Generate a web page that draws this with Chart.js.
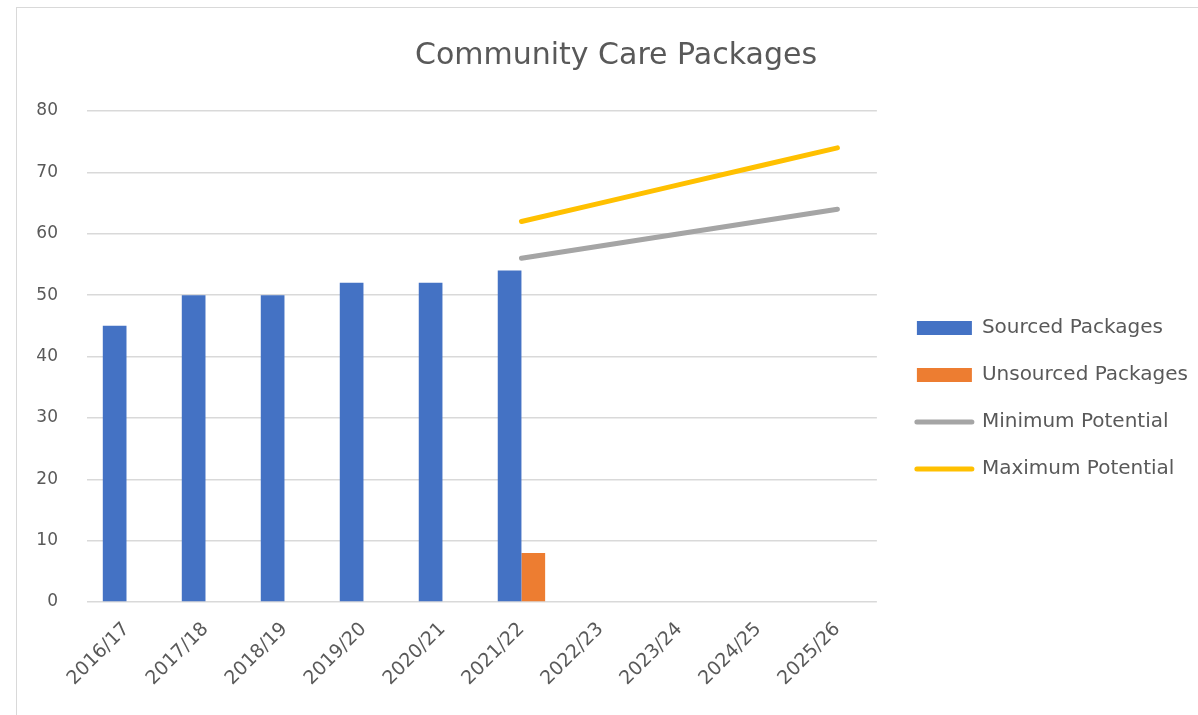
<!DOCTYPE html>
<html>
<head>
<meta charset="utf-8">
<script src="https://cdn.jsdelivr.net/npm/chart.js@4"></script>
<style>
  body { margin: 0; background: #fff; }
  #frame { position: absolute; left: 16px; top: 7px; width: 1300px; height: 800px; border: 1px solid #d9d9d9; }
  #wrap { position: absolute; left: 0; top: 0; width: 1198px; height: 715px; }
</style>
</head>
<body>
<div id="frame"></div>
<div id="wrap"><canvas id="myChart"></canvas></div>
<script>
// values
const years = ["2016/17", "2017/18", "2018/19", "2019/20", "2020/21", "2021/22", "2022/23", "2023/24", "2024/25", "2025/26"];
const sourced = [45, 50, 50, 52, 52, 54, null, null, null, null];
const unsourced = [null, null, null, null, null, 8, null, null, null, null];
const minPotential = [null, null, null, null, null, 56, 58, 60, 62, 64];
const maxPotential = [null, null, null, null, null, 62, 65, 68, 71, 74];
const yTicks = [0, 10, 20, 30, 40, 50, 60, 70, 80];

const textCol = '#595959';
const fontFam = "'DejaVu Sans', sans-serif";

var ctx = document.getElementById('myChart').getContext('2d');

var chart = new Chart(ctx, {
    type: 'bar',
    data: {
        labels: years,
        datasets: [{
            label: 'Sourced Packages',
            data: sourced,
            backgroundColor: '#4472c4',
            categoryPercentage: 0.6,
            barPercentage: 1,
            order: 2
        }, {
            label: 'Unsourced Packages',
            data: unsourced,
            backgroundColor: '#ed7d31',
            categoryPercentage: 0.6,
            barPercentage: 1,
            order: 2
        }, {
            type: 'line',
            label: 'Minimum Potential',
            data: minPotential,
            borderColor: '#a5a5a5',
            backgroundColor: '#a5a5a5',
            borderWidth: 5,
            borderCapStyle: 'round',
            pointRadius: 0,
            tension: 0,
            order: 1
        }, {
            type: 'line',
            label: 'Maximum Potential',
            data: maxPotential,
            borderColor: '#ffc000',
            backgroundColor: '#ffc000',
            borderWidth: 5,
            borderCapStyle: 'round',
            pointRadius: 0,
            tension: 0,
            order: 1
        }]
    },
    options: {
        responsive: true,
        maintainAspectRatio: false,
        animation: false,
        layout: {
            padding: { left: 34, right: 0, top: 38, bottom: 9 }
        },
        plugins: {
            title: {
                display: true,
                text: 'Community Care Packages',
                color: textCol,
                font: { family: fontFam, size: 30, weight: 'normal' },
                padding: { top: 0, bottom: 37 }
            },
            legend: {
                position: 'right',
                maxWidth: 400,
                title: {
                    display: true,
                    text: '',
                    font: { size: 10 },
                    padding: { top: 41, bottom: 0 }
                },
                labels: {
                    color: textCol,
                    font: { family: fontFam, size: 20 },
                    usePointStyle: true,
                    pointStyleWidth: 55,
                    boxHeight: 14,
                    padding: 27,
                    generateLabels: function (ch) {
                        return ch.data.datasets.map(function (ds, i) {
                            var isLine = ds.type === 'line';
                            return {
                                text: ds.label,
                                fillStyle: ds.backgroundColor,
                                strokeStyle: isLine ? ds.borderColor : ds.backgroundColor,
                                lineWidth: isLine ? 5 : 0,
                                lineCap: 'round',
                                pointStyle: isLine ? 'line' : 'rect',
                                fontColor: textCol,
                                datasetIndex: i,
                                hidden: false
                            };
                        });
                    }
                }
            },
            tooltip: { enabled: false }
        },
        scales: {
            x: {
                grid: { display: false, drawTicks: false },
                border: { display: false },
                ticks: {
                    color: textCol,
                    font: { family: fontFam, size: 19 },
                    maxRotation: 45,
                    minRotation: 45,
                    padding: 16
                }
            },
            y: {
                min: 0,
                max: 80,
                afterBuildTicks: function (s) {
                    s.ticks = yTicks.map(function (v) { return { value: v }; });
                },
                afterFit: function (s) { s.width = 53; },
                grid: { color: '#d9d9d9', lineWidth: 1.5, drawTicks: false },
                border: { display: false },
                ticks: {
                    color: textCol,
                    font: { family: fontFam, size: 17 },
                    padding: 29
                }
            },
            gap: {
                position: 'right',
                display: true,
                grid: { display: false, drawTicks: false },
                border: { display: false },
                ticks: { display: false },
                afterFit: function (s) { s.width = 13; }
            }
        }
    }
});
</script>
</body>
</html>
